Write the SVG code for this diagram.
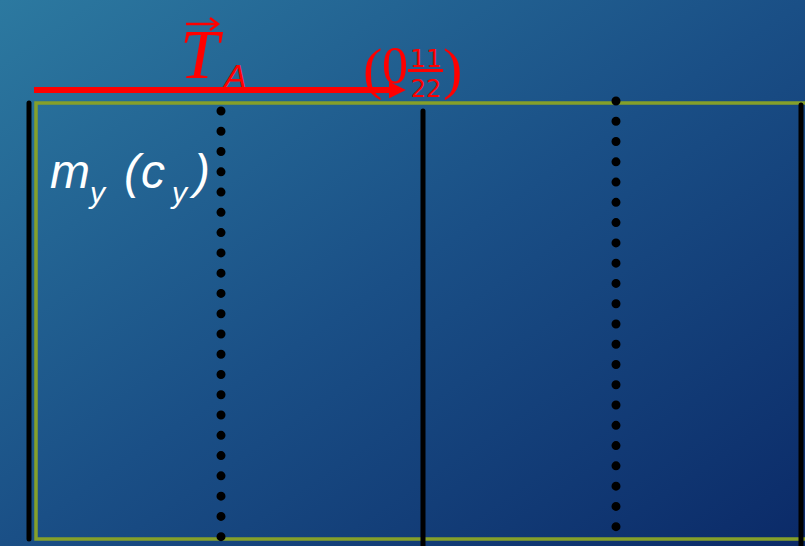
<svg xmlns="http://www.w3.org/2000/svg" width="805" height="546" viewBox="0 0 805 546">
<defs>
<linearGradient id="bg" x1="0" y1="0" x2="1" y2="1">
<stop offset="0" stop-color="#2c79a0"/>
<stop offset="0.5" stop-color="#1a4f86"/>
<stop offset="1" stop-color="#0b2a68"/>
</linearGradient>
<marker id="ah" markerWidth="2.8" markerHeight="2.8" refX="0" refY="1.4" orient="auto" markerUnits="strokeWidth">
<path d="M0,0 L2.8,1.4 L0,2.8 Z" fill="#ff0000"/>
</marker>
<style>
.solid{stroke:#000;stroke-width:5;stroke-linecap:round;fill:none}
.dots{stroke:#000;stroke-width:9;stroke-linecap:round;stroke-dasharray:0 20.27;fill:none}
.green{stroke:#85a02a;stroke-width:3.5;fill:none}
.red{fill:#ff0000}
</style>
</defs>
<rect width="805" height="546" fill="url(#bg)"/>
<g id="frame">
<path class="green" d="M810,103 L36,103 L36,539 L810,539"/>
</g>
<g id="connectors">
<line class="solid" x1="29" y1="103" x2="29" y2="539"/>
<line class="solid" x1="423" y1="111" x2="423" y2="548"/>
<line class="solid" x1="801" y1="105" x2="801" y2="548"/>
<line class="dots" x1="221" y1="111" x2="221" y2="537"/>
<line class="dots" x1="616" y1="101" x2="616" y2="527"/>
<line x1="34" y1="90" x2="389" y2="90" stroke="#ff0000" stroke-width="6" marker-end="url(#ah)"/>
</g>
<g id="label-TA" class="red" font-family="Liberation Serif, serif" font-style="italic">
<text x="180" y="78" font-size="70">T</text>
<path d="M186,24 L217,24" stroke="#ff0000" stroke-width="2.5" fill="none"/>
<path d="M210,18 L218,24 L210,30" stroke="#ff0000" stroke-width="2.5" fill="none"/>
<text x="224" y="88" font-size="34" font-family="Liberation Sans, sans-serif">A</text>
</g>
<g id="label-frac" class="red" font-family="Liberation Serif, serif">
<text x="363" y="88" font-size="58">(</text>
<text x="382" y="83" font-size="52">0</text>
<text x="426" y="67" font-size="25" text-anchor="middle" font-family="DejaVu Sans, sans-serif">11</text>
<rect x="408" y="69" width="35" height="3"/>
<text x="426" y="97" font-size="24" text-anchor="middle" font-family="DejaVu Sans, sans-serif">22</text>
<text x="443" y="88" font-size="58">)</text>
</g>
<g id="label-my" fill="#ffffff" font-family="Liberation Sans, sans-serif" font-style="italic">
<text x="50" y="188" font-size="48">m</text>
<text x="90" y="203" font-size="30">y</text>
<text x="124" y="188" font-size="48">(</text>
<text x="141" y="188" font-size="48">c</text>
<text x="172" y="203" font-size="30">y</text>
<text x="194" y="188" font-size="48">)</text>
</g>
</svg>
